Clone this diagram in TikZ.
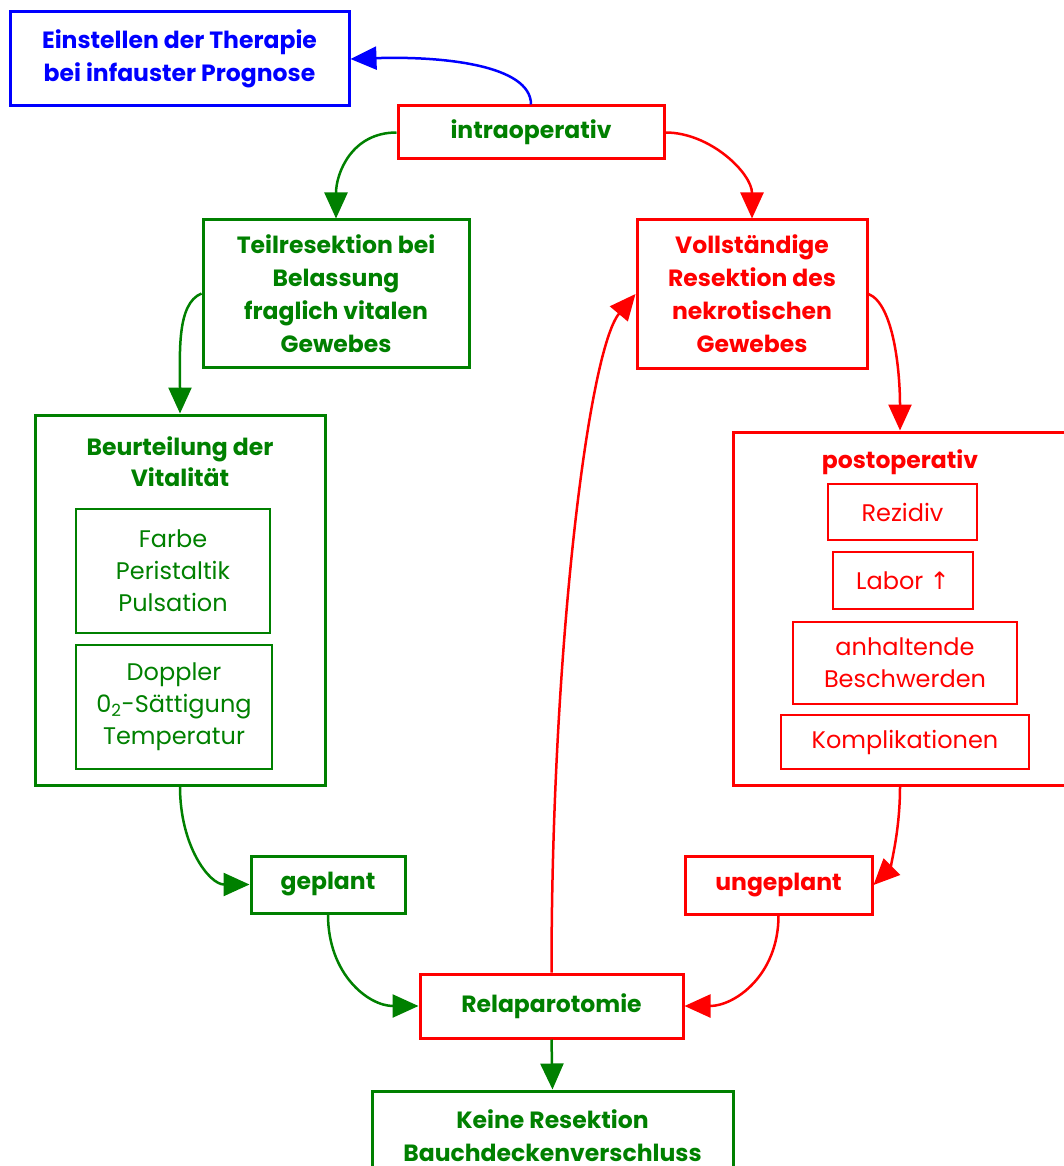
\documentclass[tikz,border=0pt]{standalone}
\usepackage{fontspec}
\setmainfont{Poppins}
\newfontfamily\symfont{DejaVu Sans}
\usetikzlibrary{arrows.meta}

\definecolor{gruen}{RGB}{0,128,0}
\definecolor{rot}{RGB}{255,0,0}
\definecolor{blau}{RGB}{0,0,255}

\tikzset{
  bigbox/.style={draw, line width=3pt, align=center, inner sep=0pt,
    font=\bfseries\fontsize{23.5}{33}\selectfont},
  smallbox/.style={draw, line width=1.5pt, align=center, inner sep=0pt,
    font=\fontsize{24}{32}\selectfont},
  title/.style={align=center, inner sep=0pt, font=\bfseries\fontsize{23.5}{31}\selectfont},
  link/.style={line width=2.5pt, -{Triangle[length=26pt,width=23pt]}},
}

\begin{document}
\begin{tikzpicture}[x=1pt,y=1pt,yscale=-1,xscale=1]
\useasboundingbox (0,0) rectangle (1063,1166);

% Shape: Rectangle [top]
\node[bigbox, blau, minimum width=339, minimum height=94] (einst) at (179.5,59) {Einstellen der Therapie\\bei infauster Prognose};
\node[bigbox, rot, text=gruen, minimum width=266, minimum height=53] (intra) at (531,132.5) {intraoperativ};

% Shape: Rectangle [second row]
\node[bigbox, gruen, minimum width=266, minimum height=147] (teil) at (336,293.5) {Teilresektion bei\\Belassung\\fraglich vitalen\\Gewebes};
\node[bigbox, rot, minimum width=230, minimum height=148] (voll) at (752,294) {Vollständige\\Resektion des\\nekrotischen\\Gewebes};

% Shape: Rectangle [Beurteilung]
\node[bigbox, gruen, minimum width=290, minimum height=370] (beurt) at (180,600) {};
\node[title, gruen] (beurttitle) at (180,461.5) {Beurteilung der\\Vitalität};
\node[smallbox, gruen, minimum width=194, minimum height=124] (farbe) at (173,571) {Farbe\\Peristaltik\\Pulsation};
\node[smallbox, gruen, minimum width=196, minimum height=124] (doppler) at (174,707) {Doppler\\0\textsubscript{2}-Sättigung\\Temperatur};

% Shape: Rectangle [postoperativ]
\node[bigbox, rot, minimum width=334, minimum height=353] (post) at (900,608.5) {};
\node[title, rot] (posttitle) at (900,462) {postoperativ};
\node[smallbox, rot, minimum width=149, minimum height=56] (rezidiv) at (902.5,512) {Rezidiv};
\node[smallbox, rot, minimum width=140, minimum height=57] (labor) at (903,580.5) {Labor {\symfont ↑}};
\node[smallbox, rot, minimum width=224, minimum height=82] (anhalt) at (905,663) {anhaltende\\Beschwerden};
\node[smallbox, rot, minimum width=248, minimum height=54] (kompl) at (905,742) {Komplikationen};

% Shape: Rectangle [bottom]
\node[bigbox, gruen, minimum width=154, minimum height=57] (geplant) at (328,884.5) {geplant};
\node[bigbox, rot, minimum width=187, minimum height=58] (ungeplant) at (778.5,885) {ungeplant};
\node[bigbox, rot, text=gruen, minimum width=263, minimum height=64] (relap) at (551.5,1006) {Relaparotomie};
\node[bigbox, gruen, minimum width=361, minimum height=90] (keine) at (552.5,1136) {Keine Resektion\\Bauchdeckenverschluss};

% Curve Lines
\draw[link, blau] (intra.north) .. controls +(0,-40) and +(90,-3) .. (einst.east);
\draw[link, gruen] (intra.west) .. controls +(-45,0) and +(0,-45) .. (teil.north);
\draw[link, rot] (intra.east) .. controls +(45,0) and +(0,-45) .. (voll.north);
\draw[link, gruen] (teil.west) .. controls +(-25,10) and +(0,-60) .. (beurt.north);
\draw[link, rot] (voll.east) .. controls +(25,10) and +(0,-60) .. (post.north);
\draw[link, gruen] (beurt.south) .. controls +(0,60) and +(-40,0) .. (geplant.west);
\draw[link, rot] (post.south) .. controls +(0,50) and +(15,-15) .. (ungeplant.east);
\draw[link, gruen] (geplant.south) .. controls +(0,60) and +(-50,0) .. (relap.west);
\draw[link, rot] (ungeplant.south) .. controls +(0,60) and +(50,0) .. (relap.east);
\draw[link, rot] (relap.north) .. controls +(0,-324) and +(-47,56) .. (voll.west);
% Straight Lines
\draw[link, gruen] (relap.south) -- (keine.north);

\end{tikzpicture}
\end{document}
